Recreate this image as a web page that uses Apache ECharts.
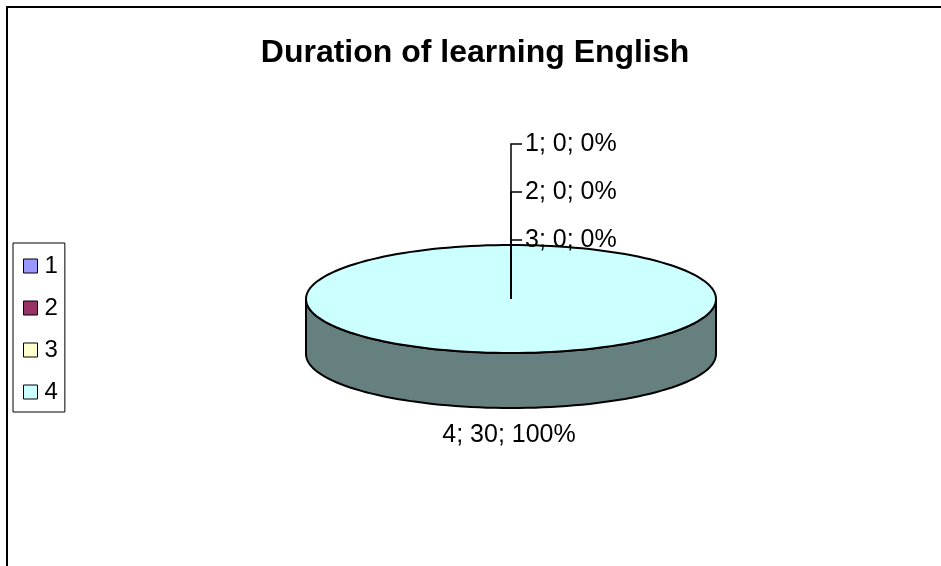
<!DOCTYPE html>
<html>
<head>
<meta charset="utf-8">
<script src="https://cdn.jsdelivr.net/npm/echarts@6/dist/echarts.min.js"></script>
<style>
  html, body { margin: 0; padding: 0; background: #fff; }
  #main { width: 941px; height: 566px; }
</style>
</head>
<body>
<div id="main"></div>
<script>
// slices of the pie
const categories = ["1", "2", "3", "4"];
const values = [0, 0, 0, 30];
const colors = ["#9999FF", "#993366", "#FFFFCC", "#CCFFFF"];
const sideColors = ["#5c5c99", "#5c1f3d", "#99997a", "#668080"];

const total = values.reduce((a, b) => a + b, 0);
// layout of the fake 3d pie
const cx = 511, cy = 299, rx = 205, ry = 54, depth = 55;
const font = "Liberation Sans";

function pt(t, dy) {
  return [cx + rx * Math.cos(t), cy + ry * Math.sin(t) + (dy || 0)];
}

function renderSlice(idx) {
  return function (params, api) {
    let before = 0, zerosBefore = 0;
    for (let i = 0; i < idx; i++) {
      before += values[i];
      if (values[i] === 0) zerosBefore++;
    }
    const v = api.value(0);
    const a0 = -Math.PI / 2 + 2 * Math.PI * before / total;
    const a1 = a0 + 2 * Math.PI * v / total;
    const label = categories[idx] + "; " + v + "; " + Math.round(v / total * 100) + "%";
    const children = [];

    if (v > 0) {
      // side wall, only the front half is visible
      [[0, Math.PI], [2 * Math.PI, 3 * Math.PI]].forEach(([f0, f1]) => {
        const s = Math.max(a0, f0), e = Math.min(a1, f1);
        if (e <= s) return;
        const pts = [];
        const n = 80;
        for (let k = 0; k <= n; k++) pts.push(pt(s + (e - s) * k / n));
        for (let k = n; k >= 0; k--) pts.push(pt(s + (e - s) * k / n, depth));
        children.push({
          type: "polygon",
          shape: { points: pts },
          style: { fill: sideColors[idx], stroke: "#000", lineWidth: 2 },
        });
      });
      // top face
      const pts = [];
      const n = 160;
      if (v !== total) pts.push([cx, cy]);
      for (let k = 0; k <= n; k++) pts.push(pt(a0 + (a1 - a0) * k / n));
      children.push({
        type: "polygon",
        shape: { points: pts },
        style: { fill: colors[idx], stroke: "#000", lineWidth: 2 },
      });
      const mid = (a0 + a1) / 2;
      const p = pt(mid, Math.sin(mid) > 0 ? depth + 27 : -28);
      children.push({
        type: "text",
        x: p[0] - 2,
        y: p[1],
        style: {
          text: label, fill: "#000", font: "25px '" + font + "'",
          align: "center", verticalAlign: "middle",
        },
      });
    } else {
      // empty slices: stacked labels with a leader line from the centre
      const ly = cy - 155 + 48 * zerosBefore;
      children.push({
        type: "polyline",
        shape: { points: [[cx, cy], [cx, ly], [cx + 11, ly]] },
        style: { stroke: "#000", lineWidth: 1.5, fill: null },
        z2: 50,
      });
      children.push({
        type: "text",
        x: cx + 14,
        y: ly,
        z2: 50,
        style: {
          text: label, fill: "#000", font: "25px '" + font + "'",
          align: "left", verticalAlign: "middle",
        },
      });
    }
    return { type: "group", children: children };
  };
}

const chart = echarts.init(document.getElementById("main"));
chart.setOption({
  animation: false,
  legend: {
    data: categories,
    orient: "vertical",
    left: 13,
    top: 243,
    padding: [11, 7, 8, 10],
    itemWidth: 14,
    itemHeight: 14,
    itemGap: 18,
    icon: "rect",
    selectedMode: false,
    borderColor: "#000",
    borderWidth: 1,
    itemStyle: { borderColor: "#000", borderWidth: 1 },
    textStyle: { fontFamily: font, fontSize: 24, color: "#000", lineHeight: 22, padding: [0, 0, 0, 2] },
  },
  graphic: [
    {
      type: "rect",
      shape: { x: 7, y: 7, width: 1000, height: 1000 },
      style: { fill: "none", stroke: "#000", lineWidth: 2 },
      z: -1,
    },
    {
      type: "text",
      x: 475,
      y: 53,
      style: {
        text: "Duration of learning English",
        font: "bold 32px '" + font + "'",
        fill: "#000",
        align: "center",
        verticalAlign: "middle",
      },
    },
  ],
  series: categories.map((name, i) => ({
    type: "custom",
    name: name,
    coordinateSystem: "none",
    z: values[i] === 0 ? 3 : 2,
    itemStyle: { color: colors[i] },
    data: [[values[i]]],
    renderItem: renderSlice(i),
  })),
});
</script>
</body>
</html>
